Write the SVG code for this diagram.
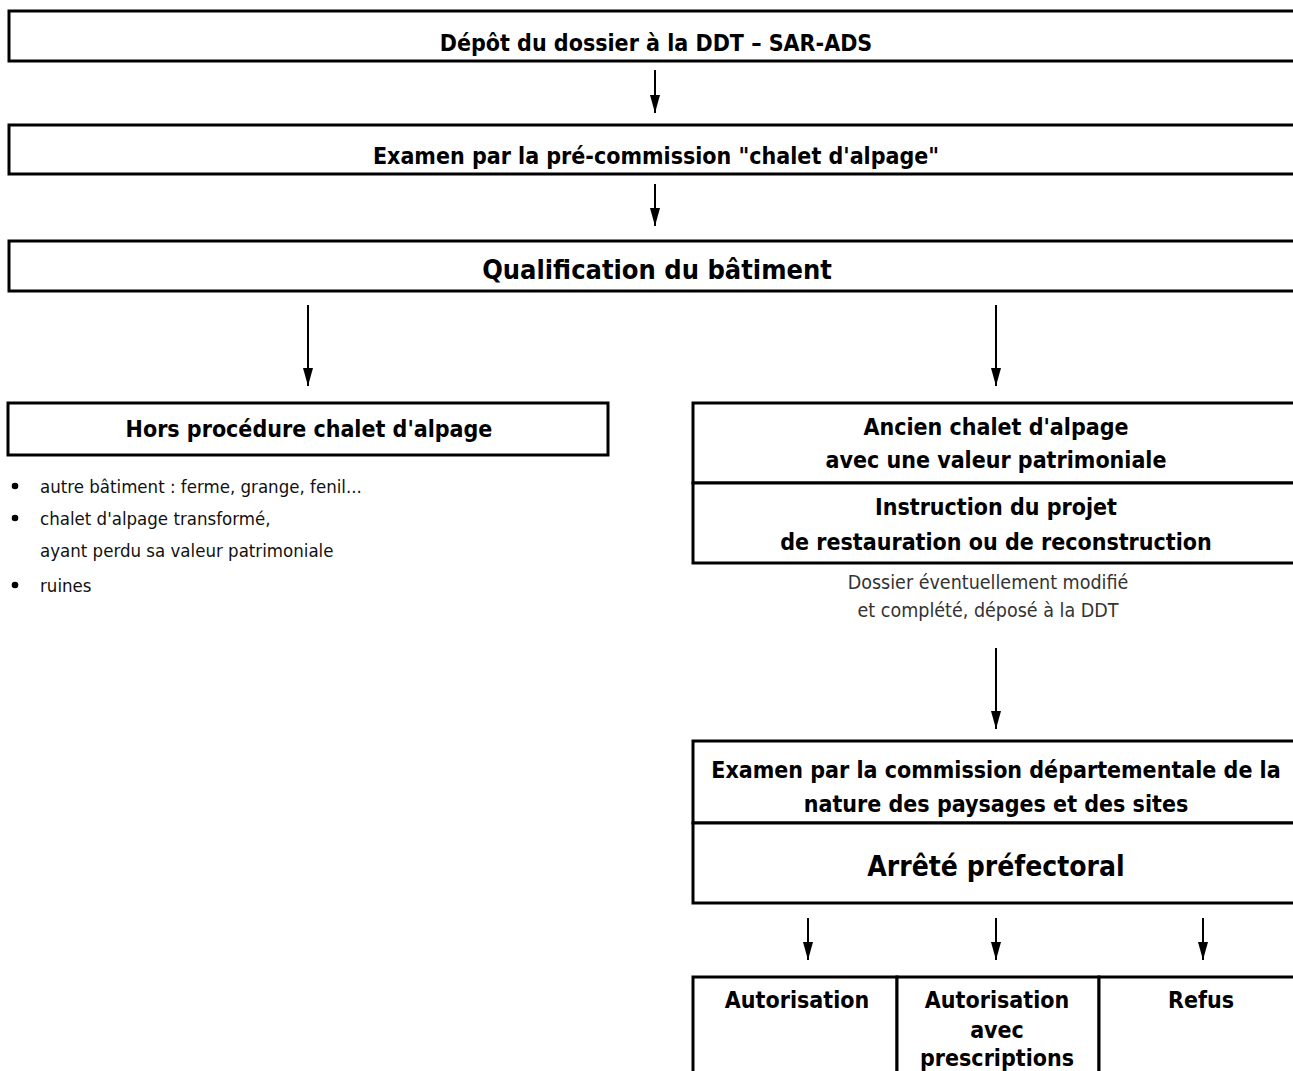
<svg xmlns="http://www.w3.org/2000/svg" width="1293" height="1071" viewBox="0 0 1293 1071">
<defs>
<marker id="ah" markerWidth="18" markerHeight="10" refX="18" refY="5" orient="auto" markerUnits="userSpaceOnUse" viewBox="0 0 18 10">
<path d="M0,0 L18,5 L0,10 Z" fill="#000"/>
</marker>
<style>
.box{fill:#fff;stroke:#000;stroke-width:3}
.con{stroke:#000;stroke-width:2;fill:none;marker-end:url(#ah)}
text{font-family:"DejaVu Sans Condensed","DejaVu Sans",sans-serif;fill:#000}
.b{font-weight:bold;font-size:23px;text-anchor:middle}
.big{font-weight:bold;font-size:27px;text-anchor:middle}
.mid{font-weight:bold;font-size:28px;text-anchor:middle}
.n{font-size:18.5px;fill:#111}
.nc{font-size:19.5px;text-anchor:middle;fill:#333}
</style>
</defs>
<g id="depot">
<rect class="box" x="9" y="11" width="1300" height="50"/>
<text class="b" x="656" y="51">Dépôt du dossier à la DDT – SAR-ADS</text>
</g>
<g id="precommission">
<rect class="box" x="9" y="125" width="1300" height="49"/>
<text class="b" x="656" y="164">Examen par la pré-commission "chalet d'alpage"</text>
</g>
<g id="qualification">
<rect class="box" x="9" y="241" width="1300" height="50"/>
<text class="big" x="657" y="279">Qualification du bâtiment</text>
</g>
<g id="hors">
<rect class="box" x="8" y="403" width="600" height="52"/>
<text class="b" x="309" y="437">Hors procédure chalet d'alpage</text>
<circle cx="15" cy="486" r="3.3"/><text class="n" x="40" y="493">autre bâtiment : ferme, grange, fenil...</text>
<circle cx="15" cy="518" r="3.3"/><text class="n" x="40" y="525">chalet d'alpage transformé,</text>
<text class="n" x="40" y="557">ayant perdu sa valeur patrimoniale</text>
<circle cx="15" cy="585" r="3.3"/><text class="n" x="40" y="592">ruines</text>
</g>
<g id="ancien">
<rect class="box" x="693" y="403" width="620" height="80"/>
<text class="b" x="996" y="435">Ancien chalet d'alpage</text>
<text class="b" x="996" y="468">avec une valeur patrimoniale</text>
</g>
<g id="instruction">
<rect class="box" x="693" y="483" width="620" height="80"/>
<text class="b" x="996" y="515">Instruction du projet</text>
<text class="b" x="996" y="550">de restauration ou de reconstruction</text>
</g>
<g id="dossier">
<text class="nc" x="988" y="589">Dossier éventuellement modifié</text>
<text class="nc" x="988" y="617">et complété, déposé à la DDT</text>
</g>
<g id="commission">
<rect class="box" x="693" y="741" width="620" height="82"/>
<text class="b" x="996" y="778">Examen par la commission départementale de la</text>
<text class="b" x="996" y="812">nature des paysages et des sites</text>
</g>
<g id="arrete">
<rect class="box" x="693" y="823" width="620" height="80"/>
<text class="mid" x="996" y="876">Arrêté préfectoral</text>
</g>
<g id="autorisation">
<rect class="box" x="693" y="977" width="204" height="110"/>
<text class="b" x="797" y="1008">Autorisation</text>
</g>
<g id="autorisation-prescriptions">
<rect class="box" x="897" y="977" width="202" height="110"/>
<text class="b" x="997" y="1008">Autorisation</text>
<text class="b" x="997" y="1038">avec</text>
<text class="b" x="997" y="1066">prescriptions</text>
</g>
<g id="refus">
<rect class="box" x="1099" y="977" width="214" height="110"/>
<text class="b" x="1201" y="1008">Refus</text>
</g>
<g id="connectors">
<line class="con" x1="655" y1="70" x2="655" y2="113"/>
<line class="con" x1="655" y1="184" x2="655" y2="226"/>
<line class="con" x1="308" y1="305" x2="308" y2="386"/>
<line class="con" x1="996" y1="305" x2="996" y2="386"/>
<line class="con" x1="996" y1="648" x2="996" y2="729"/>
<line class="con" x1="808" y1="918" x2="808" y2="960"/>
<line class="con" x1="996" y1="918" x2="996" y2="960"/>
<line class="con" x1="1203" y1="918" x2="1203" y2="960"/>
</g>
</svg>
